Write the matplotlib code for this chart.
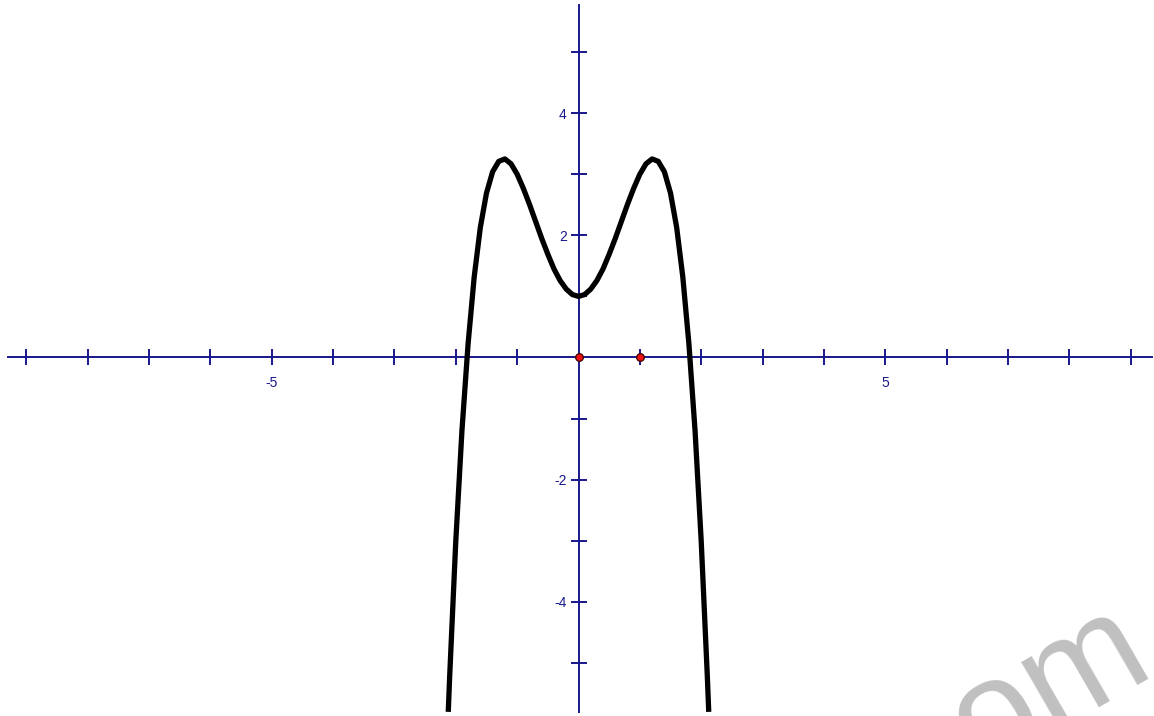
import matplotlib
matplotlib.use("Agg")
import matplotlib.pyplot as plt

# ---- data ----
curve_x = [-2.123, -2.1, -2.0, -1.9, -1.8, -1.7, -1.6, -1.5, -1.4, -1.3, -1.2, -1.1,
           -1.0, -0.9, -0.8, -0.7, -0.6, -0.5, -0.4, -0.3, -0.2, -0.1, 0.0,
           0.1, 0.2, 0.3, 0.4, 0.5, 0.6, 0.7, 0.8, 0.9, 1.0,
           1.1, 1.2, 1.3, 1.4, 1.5, 1.6, 1.7, 1.8, 1.9, 2.0, 2.1, 2.123]
curve_y = [-5.80, -5.22, -3.00, -1.20, 0.22, 1.32, 2.13, 2.69, 3.04, 3.21, 3.25, 3.17,
           3.00, 2.77, 2.51, 2.23, 1.95, 1.69, 1.45, 1.26, 1.12, 1.03, 1.00,
           1.03, 1.12, 1.26, 1.45, 1.69, 1.95, 2.23, 2.51, 2.77, 3.00,
           3.17, 3.25, 3.21, 3.04, 2.69, 2.13, 1.32, 0.22, -1.20, -3.00, -5.22, -5.80]
point_x = [0, 1]
point_y = [0, 0]
x_ticks = [-9, -8, -7, -6, -5, -4, -3, -2, -1, 1, 2, 3, 4, 5, 6, 7, 8, 9]
x_tick_labels = ["", "", "", "", "-5", "", "", "", "", "", "", "", "", "5", "", "", "", ""]
y_ticks = [-5, -4, -3, -2, -1, 1, 2, 3, 4, 5]
y_tick_labels = ["", "-4", "", "-2", "", "", "2", "", "4", ""]

NAVY = "#18188c"
FONT = "Liberation Sans"

fig = plt.figure(figsize=(11.54, 7.16), dpi=100)
ax = fig.add_axes([0, 0, 1, 1])
ax.set_facecolor("white")

# pixel geometry -> data limits
ox, oy = 578.5, 357.5
sx, sy = 61.35, 61.1
ax.set_xlim(-ox / sx, (1154 - ox) / sx)
ax.set_ylim(-(716 - oy) / sy, oy / sy)

for s in ("top", "right"):
    ax.spines[s].set_visible(False)
ax.spines["left"].set_position(("data", 0))
ax.spines["bottom"].set_position(("data", 0))
ax.spines["bottom"].set_bounds((8 - ox) / sx, (1152 - ox) / sx)
ax.spines["left"].set_bounds(-(712 - oy) / sy, (oy - 5) / sy)
for s in ("left", "bottom"):
    ax.spines[s].set_color(NAVY)
    ax.spines[s].set_linewidth(1.4)
    ax.spines[s].set_zorder(1)

ax.set_xticks(x_ticks)
ax.set_xticklabels(x_tick_labels)
ax.set_yticks(y_ticks)
ax.set_yticklabels(y_tick_labels)
ax.tick_params(axis="both", direction="inout", length=11, width=1.4, color=NAVY,
               labelcolor=NAVY, labelsize=10)
ax.tick_params(axis="x", pad=8)
ax.tick_params(axis="y", pad=3)
for lab in ax.get_xticklabels() + ax.get_yticklabels():
    lab.set_fontfamily(FONT)

ax.plot(curve_x, curve_y, color="black", lw=3.8, solid_joinstyle="round",
        solid_capstyle="butt", zorder=3)
ax.plot(point_x, point_y, linestyle="none", marker="o", markersize=5.5,
        markerfacecolor="#ee1111", markeredgecolor="#400000", markeredgewidth=0.9,
        zorder=4)

# watermark
fig.text(1157 / 1154, 1 - 670 / 716, "com", fontsize=105, color="#c0c0c0",
         rotation=30, rotation_mode="anchor", ha="right", va="baseline",
         family=FONT, zorder=0)

fig.savefig("out.png", dpi=100, facecolor="white")
